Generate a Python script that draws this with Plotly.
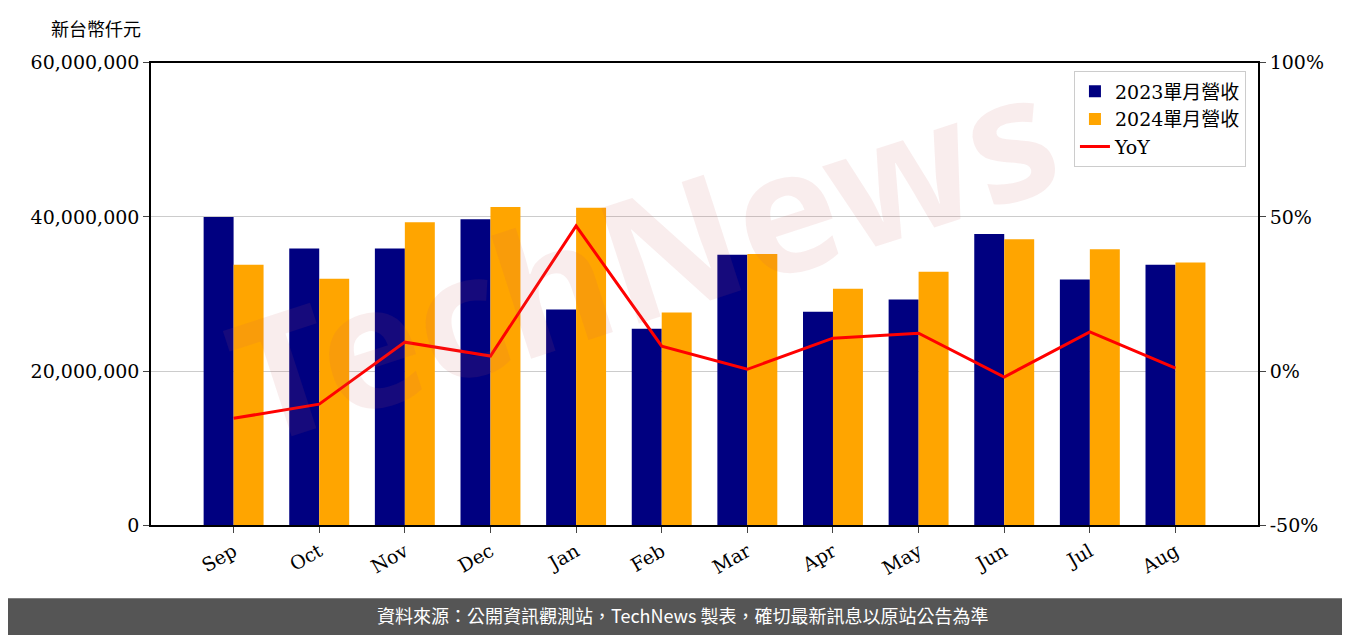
import plotly.graph_objects as go

months = ["Sep", "Oct", "Nov", "Dec", "Jan", "Feb", "Mar", "Apr", "May", "Jun", "Jul", "Aug"]
rev_2023 = [40.0, 35.9, 35.9, 39.7, 28.0, 25.5, 35.1, 27.7, 29.3, 37.8, 31.9, 33.8]
rev_2024 = [33.8, 32.0, 39.3, 41.3, 41.2, 27.6, 35.2, 30.7, 32.9, 37.1, 35.8, 34.1]
yoy = [-15.3, -10.7, 9.4, 4.9, 47.1, 8.1, 0.6, 10.7, 12.3, -1.9, 12.7, 1.0]

rev_2023 = [v * 1e6 for v in rev_2023]
rev_2024 = [v * 1e6 for v in rev_2024]
xs = list(range(len(months)))

font = "DejaVu Serif, Noto Sans CJK TC"

fig = go.Figure()
fig.add_trace(go.Bar(x=xs, y=rev_2023, name="2023單月營收", marker_color="#000080",
                     marker_line_width=0))
fig.add_trace(go.Bar(x=xs, y=rev_2024, name="2024單月營收", marker_color="#FFA500",
                     marker_line_width=0))
fig.add_trace(go.Scatter(x=xs, y=yoy, name="YoY", mode="lines", yaxis="y2",
                         line={"color": "red", "width": 3}))

fig.update_layout(
    width=1350, height=638,
    margin={"l": 0, "r": 0, "t": 0, "b": 0},
    paper_bgcolor="white", plot_bgcolor="white",
    barmode="group", bargap=0.3, bargroupgap=0,
    font={"family": font, "size": 19, "color": "black"},
    xaxis={
        "domain": [0.1059, 0.926], "range": [-0.965, 11.965],
        "tickvals": xs, "ticktext": months, "tickangle": -30,
        "showline": True, "linecolor": "black", "linewidth": 1.5, "mirror": True,
        "ticks": "outside", "ticklen": 6, "showgrid": False,
    },
    yaxis={
        "domain": [0.178, 0.929], "range": [0, 60e6],
        "tickvals": [0, 20e6, 40e6, 60e6],
        "ticktext": ["0", "20,000,000", "40,000,000", "60,000,000"],
        "showline": True, "linecolor": "black", "linewidth": 1.5,
        "ticks": "outside", "ticklen": 6,
        "showgrid": True, "gridcolor": "#cccccc", "zeroline": False,
    },
    yaxis2={
        "overlaying": "y", "side": "right", "range": [-50, 100],
        "tickvals": [-50, 0, 50, 100], "ticktext": ["-50%", "0%", "50%", "100%"],
        "showline": True, "linecolor": "black", "linewidth": 1.5,
        "ticks": "outside", "ticklen": 6, "showgrid": False, "zeroline": False,
    },
    legend={
        "x": 0.917, "y": 0.915, "xanchor": "right", "yanchor": "top",
        "bgcolor": "rgba(255,255,255,0.8)", "bordercolor": "#cccccc", "borderwidth": 1,
        "font": {"size": 19},
    },
    shapes=[{
        "type": "rect", "xref": "paper", "yref": "paper",
        "x0": 0, "x1": 1, "y0": 0, "y1": 0.0596,
        "fillcolor": "#555555", "line": {"width": 0}, "layer": "below",
    }],
    annotations=[
        {"text": "新台幣仟元", "xref": "paper", "yref": "paper", "x": 0.03, "y": 0.985,
         "xanchor": "left", "yanchor": "middle", "showarrow": False,
         "font": {"size": 18, "family": "Noto Sans CJK TC"}},
        {"text": "資料來源：公開資訊觀測站，TechNews 製表，確切最新訊息以原站公告為準",
         "xref": "paper", "yref": "paper", "x": 0.5, "y": 0.033,
         "xanchor": "center", "yanchor": "middle", "showarrow": False,
         "font": {"size": 18, "color": "white", "family": "Noto Sans CJK TC"}},
        {"text": "<b>TechNews</b>", "xref": "paper", "yref": "paper", "x": 0.47, "y": 0.62,
         "showarrow": False, "textangle": -18,
         "font": {"size": 170, "color": "rgba(200,90,90,0.11)", "family": "Noto Sans"}},
    ],
)

fig.write_html("out.html")
